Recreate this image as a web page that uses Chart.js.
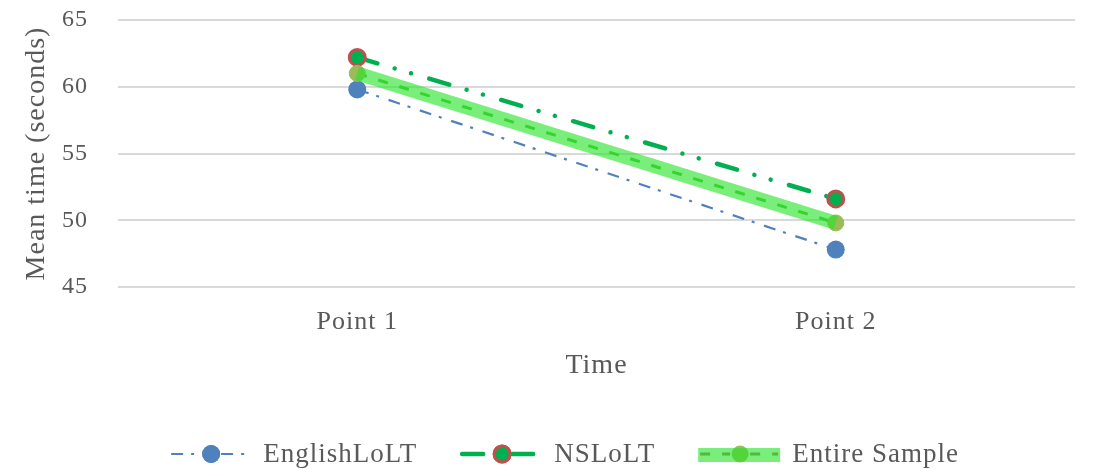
<!DOCTYPE html>
<html><head><meta charset="utf-8">
<script src="https://cdn.jsdelivr.net/npm/chart.js@4/dist/chart.umd.min.js"></script>
<style>html,body{margin:0;padding:0;background:#fff}</style>
</head><body>
<canvas id="c" width="1102" height="469"></canvas>
<script>
const categories = ['Point 1', 'Point 2'];
const englishLoLT = [59.8, 47.8];
const nsLoLT = [62.2, 51.6];
const entireSample = [61.0, 49.8];
const seriesNames = ['EnglishLoLT', 'NSLoLT', 'Entire Sample'];
const yTicks = [45, 50, 55, 60, 65];
const yTitle = 'Mean time (seconds)';
const xTitle = 'Time';

const FONT = '"Liberation Serif", "Times New Roman", serif';
const TXT = '#595959';
const GLOW = 'rgba(40,228,40,0.62)';
const CLEAR = 'rgba(0,0,0,0)';

const datasets = [
  { label: '_glow', data: entireSample, borderColor: GLOW, borderWidth: 14, pointRadius: 0, fill: false, order: 0, borderCapStyle: 'butt' },
  { label: seriesNames[2], data: entireSample, borderColor: '#52b83e', borderWidth: 3, borderDash: [10, 12],
    pointRadius: 8, pointBackgroundColor: '#9bbb59', pointBorderColor: '#9bbb59', pointBorderWidth: 1, order: 1, glow: true },
  { label: seriesNames[1], data: nsLoLT, borderColor: '#00b050', borderWidth: 4.5, borderDash: [21, 18, 0.01, 17, 0.01, 19], borderCapStyle: 'round',
    pointRadius: 8, pointBackgroundColor: '#00b050', pointBorderColor: '#c0504d', pointBorderWidth: 3, order: 2 },
  { label: seriesNames[0], data: englishLoLT, borderColor: '#4f81bd', borderWidth: 2.2, borderDash: [12, 8, 3, 10],
    pointRadius: 9, pointBackgroundColor: '#4f81bd', pointBorderColor: '#4f81bd', pointBorderWidth: 0, order: 3 }
];

const spacingPlugin = {
  id: 'spacing',
  beforeDraw(chart) { chart.ctx.letterSpacing = '1px'; }
};

const legendPlugin = {
  id: 'customLegend',
  afterDraw(chart) {
    const ctx = chart.ctx;
    const entries = [3, 2, 1].map(i => chart.data.datasets[i]);
    ctx.save();
    ctx.letterSpacing = '1px';
    ctx.font = '27px ' + FONT;
    const lineLen = 78, textOff = 92, gap = 45, y = 454;
    const widths = entries.map(d => textOff + ctx.measureText(d.label).width);
    const total = widths.reduce((a, b) => a + b, 0) + gap * (entries.length - 1);
    let x = 565 - total / 2;
    entries.forEach((d, k) => {
      ctx.setLineDash([]);
      ctx.beginPath(); ctx.arc(x + 40, y, d.pointRadius, 0, Math.PI * 2);
      ctx.fillStyle = d.pointBackgroundColor; ctx.fill();
      if (d.pointBorderWidth) { ctx.lineWidth = d.pointBorderWidth; ctx.strokeStyle = d.pointBorderColor; ctx.stroke(); }
      if (d.glow) {
        ctx.strokeStyle = GLOW; ctx.lineWidth = 14; ctx.lineCap = 'butt';
        ctx.beginPath(); ctx.moveTo(x - 2, y + 1); ctx.lineTo(x + lineLen + 2, y + 1); ctx.stroke();
      }
      ctx.strokeStyle = d.borderColor; ctx.lineWidth = d.borderWidth;
      ctx.lineCap = d.borderCapStyle || 'butt';
      ctx.setLineDash(d.borderDash || []);
      ctx.beginPath(); ctx.moveTo(x, y); ctx.lineTo(x + 30, y); ctx.moveTo(x + 50, y); ctx.lineTo(x + lineLen, y); ctx.stroke();
      ctx.setLineDash([]);
      if (!d.glow) {
        ctx.beginPath(); ctx.arc(x + 40, y, d.pointRadius, 0, Math.PI * 2);
        ctx.fillStyle = d.pointBackgroundColor; ctx.fill();
        if (d.pointBorderWidth) { ctx.lineWidth = d.pointBorderWidth; ctx.strokeStyle = d.pointBorderColor; ctx.stroke(); }
      }
      ctx.fillStyle = TXT; ctx.textBaseline = 'middle'; ctx.textAlign = 'left';
      ctx.fillText(d.label, x + textOff, y + 1);
      x += widths[k] + gap;
    });
    ctx.restore();
  }
};

new Chart(document.getElementById('c'), {
  type: 'line',
  data: { labels: categories, datasets },
  options: {
    responsive: false, animation: false,
    layout: { padding: { top: 20, right: 27, bottom: 0, left: 0 } },
    plugins: { legend: { display: false }, tooltip: { enabled: false } },
    elements: { line: { tension: 0 } },
    scales: {
      x: {
        offset: true,
        grid: { display: false, drawTicks: true, tickLength: 20, tickColor: CLEAR },
        border: { display: false },
        ticks: { color: TXT, font: { family: FONT, size: 26 }, padding: 0, maxRotation: 0 },
        title: { display: true, text: xTitle, color: TXT, font: { family: FONT, size: 28 }, padding: { top: 0, bottom: 87 } },
        afterFit(s) { s.height = 182; }
      },
      y: {
        min: yTicks[0], max: yTicks[yTicks.length - 1],
        afterBuildTicks(s) { s.ticks = yTicks.map(v => ({ value: v })); },
        grid: { color: '#d9d9d9', lineWidth: 2, drawTicks: true, tickLength: 30, tickColor: CLEAR },
        border: { display: false },
        ticks: { color: TXT, font: { family: FONT, size: 24 }, padding: 0 },
        title: { display: true, text: yTitle, color: TXT, font: { family: FONT, size: 28 }, padding: { top: 20, bottom: 0 } },
        afterFit(s) { s.width = 118; }
      }
    }
  },
  plugins: [spacingPlugin, legendPlugin]
});
</script>
</body></html>
